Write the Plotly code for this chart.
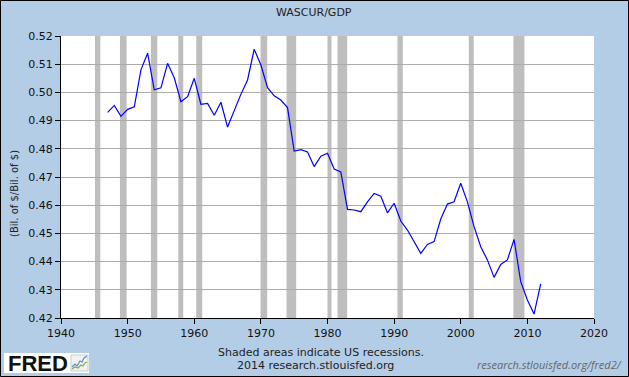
import plotly.graph_objects as go

# ---- data ----
years = list(range(1947, 2013))
values = [
    0.4929, 0.4954, 0.4915, 0.4940, 0.4949, 0.5080, 0.5139, 0.5009, 0.5016, 0.5103,
    0.5052, 0.4967, 0.4985, 0.5050, 0.4958, 0.4961, 0.4919, 0.4965, 0.4877, 0.4938,
    0.4993, 0.5044, 0.5153, 0.5097, 0.5017, 0.4988, 0.4973, 0.4946, 0.4792, 0.4797,
    0.4789, 0.4737, 0.4774, 0.4784, 0.4728, 0.4718, 0.4585, 0.4583, 0.4577, 0.4612,
    0.4642, 0.4632, 0.4573, 0.4607, 0.4544, 0.4512, 0.4471, 0.4429, 0.4461, 0.4471,
    0.4551, 0.4604, 0.4612, 0.4678, 0.4612, 0.4524, 0.4453, 0.4406, 0.4344, 0.4390,
    0.4406, 0.4479, 0.4329, 0.4264, 0.4214, 0.4321,
]
recession_start = [1945.1, 1948.85, 1953.5, 1957.6, 1960.3, 1969.95, 1973.85,
                   1980.0, 1981.5, 1990.5, 2001.2, 2007.9]
recession_end = [1945.9, 1949.85, 1954.45, 1958.35, 1961.2, 1970.95, 1975.3,
                 1980.6, 1982.95, 1991.3, 2001.95, 2009.55]
x_ticks = list(range(1940, 2021, 10))
y_ticks = [round(0.42 + 0.01 * i, 2) for i in range(11)]

W, H = 629, 377
L, R, T, B = 61, 35, 36, 59
PW, PH = W - L - R, H - T - B


def px(x):
    return (x - L) / PW


def py(y):
    return (H - B - y) / PH


FONT = "DejaVu Sans"
BG = "#B4CDE6"

fig = go.Figure()
fig.add_trace(go.Scatter(x=years, y=values, mode="lines",
                         line=dict(color="#0000FF", width=1.2),
                         hoverinfo="x+y", showlegend=False))

shapes = []
for s, e in zip(recession_start, recession_end):
    shapes.append(dict(type="rect", xref="x", yref="paper", x0=s, x1=e, y0=0, y1=1,
                       fillcolor="#BEBEBE", line=dict(width=0), layer="between"))

# outer frame
shapes.append(dict(type="rect", xref="paper", yref="paper",
                   x0=px(0.5), x1=px(W - 0.5), y0=py(H - 0.5), y1=py(0.5),
                   line=dict(color="#000000", width=1), layer="above"))
# FRED logo box
shapes.append(dict(type="rect", xref="paper", yref="paper",
                   x0=px(4), x1=px(89), y0=py(373), y1=py(353),
                   fillcolor="#FFFFFF", line=dict(width=0), layer="above"))
# icon box
shapes.append(dict(type="rect", xref="paper", yref="paper",
                   x0=px(71), x1=px(88), y0=py(371), y1=py(355),
                   fillcolor="#F2F2F2", line=dict(color="#CCCCCC", width=1), layer="above"))
blue_pts = [(72, 367), (75, 364), (77, 366), (80, 361), (82, 362), (84, 358), (87, 356)]
green_pts = [(72, 369), (75, 367), (78, 368), (81, 365), (83, 366), (85, 363), (87, 362)]
for pts, col in ((blue_pts, "#5B8DC9"), (green_pts, "#7FAE4E")):
    path = "M " + " L ".join(f"{px(a):.5f},{py(b):.5f}" for a, b in pts)
    shapes.append(dict(type="path", xref="paper", yref="paper", path=path,
                       line=dict(color=col, width=1.2), layer="above"))

annotations = [
    dict(text="WASCUR/GDP", x=px(314), y=py(12), xref="paper", yref="paper",
         showarrow=False, font=dict(family=FONT, size=11, color="#222222"),
         xanchor="center", yanchor="middle"),
    dict(text="(Bil. of $/Bil. of $)", x=px(14), y=py(194), xref="paper", yref="paper",
         showarrow=False, textangle=-90, font=dict(family=FONT, size=10, color="#222222"),
         xanchor="center", yanchor="middle"),
    dict(text="Shaded areas indicate US recessions.", x=px(321), y=py(352),
         xref="paper", yref="paper", showarrow=False,
         font=dict(family=FONT, size=11, color="#222222"), xanchor="center", yanchor="middle"),
    dict(text="2014 research.stlouisfed.org", x=px(315), y=py(365),
         xref="paper", yref="paper", showarrow=False,
         font=dict(family=FONT, size=11, color="#222222"), xanchor="center", yanchor="middle"),
    dict(text="<i>research.stlouisfed.org/fred2/</i>", x=px(624), y=py(364),
         xref="paper", yref="paper", showarrow=False,
         font=dict(family="Open Sans", size=11, color="#666666"), xanchor="right", yanchor="middle"),
    dict(text="<b>FRED</b>", x=px(6), y=py(363.5), xref="paper", yref="paper",
         showarrow=False, font=dict(family="Liberation Sans", size=22, color="#111111"),
         xanchor="left", yanchor="middle"),
]

fig.update_layout(
    width=W, height=H,
    margin=dict(l=L, r=R, t=T, b=B, pad=0),
    paper_bgcolor=BG, plot_bgcolor="#FFFFFF",
    shapes=shapes, annotations=annotations,
    showlegend=False,
    xaxis=dict(range=[1940, 2020], tickvals=x_ticks, ticktext=[str(v) for v in x_ticks],
               showgrid=False, zeroline=False, showline=True, linecolor="#000000", linewidth=1,
               ticks="outside", ticklen=5, tickcolor="#000000",
               tickfont=dict(family=FONT, size=11, color="#111111")),
    yaxis=dict(range=[0.42, 0.52], tickvals=y_ticks, ticktext=[f"{v:.2f}" for v in y_ticks],
               showgrid=True, gridcolor="#ABABAB", gridwidth=1, zeroline=False,
               showline=True, linecolor="#000000", linewidth=1,
               ticks="outside", ticklen=5, tickcolor="#000000",
               tickfont=dict(family=FONT, size=11, color="#111111")),
)

fig.write_html("out.html", config={"displayModeBar": False},
               post_script="document.body.style.margin='0';document.body.style.overflow='hidden';")
